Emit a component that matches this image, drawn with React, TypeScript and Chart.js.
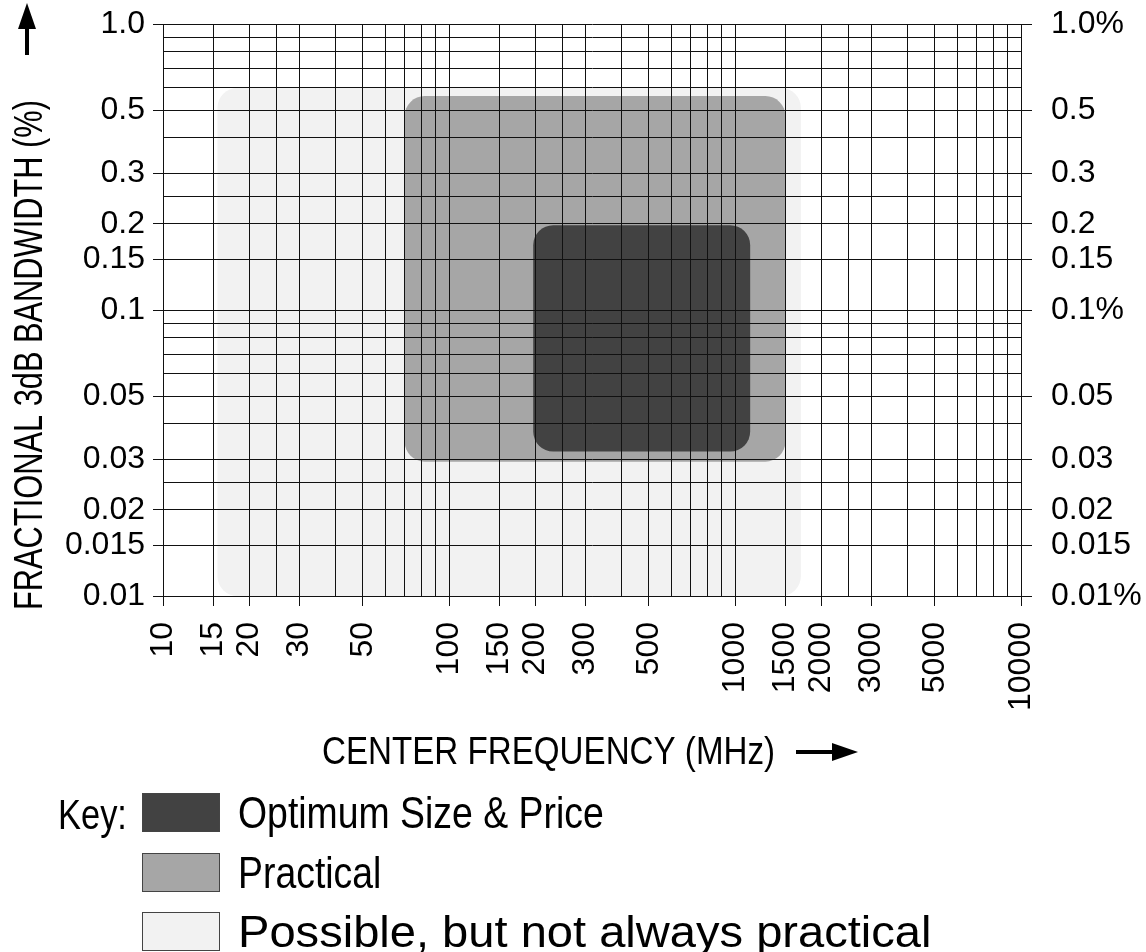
import React, { useEffect, useRef } from 'react';
import { Chart, registerables } from 'chart.js';

Chart.register(...registerables);

const FONT = '"Liberation Sans", Arial, Helvetica, sans-serif';

// ---- axis values ----
const xGridValues = [10, 15, 20, 25, 30, 40, 50, 60, 70, 80, 90, 100, 150, 200, 250, 300, 400, 500, 600, 700, 800, 900, 1000, 1500, 2000, 2500, 3000, 4000, 5000, 6000, 7000, 8000, 9000, 10000];
const xTickValues = [10, 15, 20, 30, 50, 100, 150, 200, 300, 500, 1000, 1500, 2000, 3000, 5000, 10000];
const xTickLabels = ['10', '15', '20', '30', '50', '100', '150', '200', '300', '500', '1000', '1500', '2000', '3000', '5000', '10000'];

const yGridValues = [0.01, 0.015, 0.02, 0.025, 0.03, 0.04, 0.05, 0.06, 0.07, 0.08, 0.09, 0.1, 0.15, 0.2, 0.25, 0.3, 0.4, 0.5, 0.6, 0.7, 0.8, 0.9, 1.0];
const yTickValues = [1.0, 0.5, 0.3, 0.2, 0.15, 0.1, 0.05, 0.03, 0.02, 0.015, 0.01];
const yLeftTickLabels = ['1.0', '0.5', '0.3', '0.2', '0.15', '0.1', '0.05', '0.03', '0.02', '0.015', '0.01'];
const yRightTickLabels = ['1.0%', '0.5', '0.3', '0.2', '0.15', '0.1%', '0.05', '0.03', '0.02', '0.015', '0.01%'];

// ---- regions (frequency MHz, fractional bandwidth %) ----
const regionNames = ['Optimum Size & Price', 'Practical', 'Possible, but not always practical'];
const regionFreqLow = [197, 70, 15.5];
const regionFreqHigh = [1130, 1500, 1700];
const regionBwLow = [0.032, 0.0295, 0.01];
const regionBwHigh = [0.198, 0.56, 0.598];
const regionColors = ['#424242', '#a6a6a6', '#f2f2f2'];

const xTitle = 'CENTER FREQUENCY (MHz)';
const yTitle = 'FRACTIONAL 3dB BANDWIDTH (%)';
const keyLabel = 'Key:';

function roundRectPath(ctx: CanvasRenderingContext2D, x: number, y: number, w: number, h: number, r: number) {
  r = Math.min(r, w / 2, h / 2);
  ctx.beginPath();
  ctx.moveTo(x + r, y);
  ctx.lineTo(x + w - r, y);
  ctx.arcTo(x + w, y, x + w, y + r, r);
  ctx.lineTo(x + w, y + h - r);
  ctx.arcTo(x + w, y + h, x + w - r, y + h, r);
  ctx.lineTo(x + r, y + h);
  ctx.arcTo(x, y + h, x, y + h - r, r);
  ctx.lineTo(x, y + r);
  ctx.arcTo(x, y, x + r, y, r);
  ctx.closePath();
}

function drawText(ctx: CanvasRenderingContext2D, text: string, x: number, y: number, size: number, sx: number, rot = 0) {
  ctx.save();
  ctx.translate(x, y);
  if (rot) ctx.rotate(rot);
  ctx.scale(sx, 1);
  ctx.font = `${size}px ${FONT}`;
  ctx.fillStyle = '#000';
  ctx.textAlign = 'left';
  ctx.textBaseline = 'alphabetic';
  ctx.fillText(text, 0, 0);
  ctx.restore();
}

const regionsPlugin = {
  id: 'regions',
  beforeDraw(chart: any) {
    const ctx: CanvasRenderingContext2D = chart.ctx;
    const xs = chart.scales.x;
    const ys = chart.scales.y;
    ctx.save();
    for (let i = regionNames.length - 1; i >= 0; i--) {
      const x0 = xs.getPixelForValue(regionFreqLow[i]);
      const x1 = xs.getPixelForValue(regionFreqHigh[i]);
      const y0 = ys.getPixelForValue(regionBwHigh[i]);
      const y1 = ys.getPixelForValue(regionBwLow[i]);
      roundRectPath(ctx, x0, y0, x1 - x0, y1 - y0, 20);
      ctx.fillStyle = regionColors[i];
      ctx.fill();
    }
    ctx.restore();
  },
  afterDraw(chart: any) {
    const ctx: CanvasRenderingContext2D = chart.ctx;
    ctx.save();
    ctx.fillStyle = '#000';
    // y title + arrow
    drawText(ctx, yTitle, 42, 610, 40, 0.77, -Math.PI / 2);
    ctx.fillRect(25, 22, 4, 33);
    ctx.beginPath();
    ctx.moveTo(27, 3);
    ctx.lineTo(36, 29);
    ctx.lineTo(18, 29);
    ctx.closePath();
    ctx.fill();
    // x title + arrow
    drawText(ctx, xTitle, 322, 764, 39, 0.85);
    ctx.fillRect(796, 750, 40, 4);
    ctx.beginPath();
    ctx.moveTo(858, 752);
    ctx.lineTo(832, 743);
    ctx.lineTo(832, 761);
    ctx.closePath();
    ctx.fill();
    // key
    drawText(ctx, keyLabel, 58, 829, 42, 0.82);
    const boxTops = [793, 853, 912];
    const textSx = [0.85, 0.85, 1.07];
    const textSize = [44, 44, 44];
    for (let i = 0; i < regionNames.length; i++) {
      ctx.fillStyle = regionColors[i];
      ctx.fillRect(142, boxTops[i], 78, 39);
      ctx.strokeStyle = '#444';
      ctx.lineWidth = 1;
      ctx.strokeRect(142.5, boxTops[i] + 0.5, 77, 38);
      drawText(ctx, regionNames[i], 238, boxTops[i] + 35, textSize[i], textSx[i]);
    }
    ctx.restore();
  },
};

const tickFont = { family: FONT, size: 32 };

const zeroPad = (s: any) => {
  s.paddingTop = 0;
  s.paddingBottom = 0;
  s.paddingLeft = 0;
  s.paddingRight = 0;
};

export default function App() {
  const ref = useRef<HTMLCanvasElement | null>(null);
  useEffect(() => {
    document.body.style.margin = '0';
    const canvas = ref.current;
    if (!canvas) return;
    const chart = new Chart(canvas, {
      type: 'scatter',
      data: {
        datasets: regionNames.map((name, i) => ({
          label: name,
          data: [
            { x: regionFreqLow[i], y: regionBwLow[i] },
            { x: regionFreqHigh[i], y: regionBwHigh[i] },
          ],
          pointRadius: 0,
          showLine: false,
        })),
      },
      options: {
        animation: false,
        responsive: false,
        devicePixelRatio: 1,
        layout: { padding: { top: 24, left: 0, right: 0, bottom: 0 } },
        plugins: { legend: { display: false }, tooltip: { enabled: false }, title: { display: false } },
        events: [],
        scales: {
          x: {
            type: 'logarithmic',
            position: 'bottom',
            min: 10,
            max: 10000,
            afterBuildTicks: (s: any) => {
              s.ticks = xGridValues.map((v) => ({ value: v }));
            },
            afterFit: (s: any) => {
              s.height = 356;
              zeroPad(s);
            },
            ticks: {
              autoSkip: false,
              maxRotation: 90,
              minRotation: 90,
              padding: 16,
              color: '#000',
              font: tickFont,
              callback: (v: any) => {
                const k = xTickValues.indexOf(Number(v));
                return k >= 0 ? xTickLabels[k] : '';
              },
            },
            grid: {
              color: '#111',
              lineWidth: 1,
              tickLength: 10,
              tickColor: (c: any) => (xTickValues.indexOf(c.tick?.value) >= 0 ? '#111' : 'rgba(0,0,0,0)'),
            },
            border: { display: true, color: '#111' },
          },
          y: {
            type: 'logarithmic',
            position: 'left',
            min: 0.01,
            max: 1,
            afterBuildTicks: (s: any) => {
              s.ticks = yGridValues.map((v) => ({ value: v }));
            },
            afterFit: (s: any) => {
              s.width = 163;
              zeroPad(s);
            },
            ticks: {
              autoSkip: false,
              padding: 8,
              color: '#000',
              font: tickFont,
              callback: (v: any) => {
                const k = yTickValues.indexOf(Number(v));
                return k >= 0 ? yLeftTickLabels[k] : '';
              },
            },
            grid: {
              color: '#111',
              lineWidth: 1,
              tickLength: 10,
              tickColor: (c: any) => (yTickValues.indexOf(c.tick?.value) >= 0 ? '#111' : 'rgba(0,0,0,0)'),
            },
            border: { display: true, color: '#111' },
          },
          y2: {
            type: 'logarithmic',
            position: 'right',
            min: 0.01,
            max: 1,
            afterBuildTicks: (s: any) => {
              s.ticks = yGridValues.map((v) => ({ value: v }));
            },
            afterFit: (s: any) => {
              s.width = 125;
              zeroPad(s);
            },
            ticks: {
              autoSkip: false,
              padding: 19,
              color: '#000',
              font: tickFont,
              callback: (v: any) => {
                const k = yTickValues.indexOf(Number(v));
                return k >= 0 ? yRightTickLabels[k] : '';
              },
            },
            grid: {
              drawOnChartArea: false,
              tickLength: 11,
              tickColor: (c: any) => (yTickValues.indexOf(c.tick?.value) >= 0 ? '#111' : 'rgba(0,0,0,0)'),
            },
            border: { display: false },
          },
        },
      } as any,
      plugins: [regionsPlugin],
    });
    return () => chart.destroy();
  }, []);
  return <canvas ref={ref} width={1146} height={952} style={{ display: 'block' }} />;
}
